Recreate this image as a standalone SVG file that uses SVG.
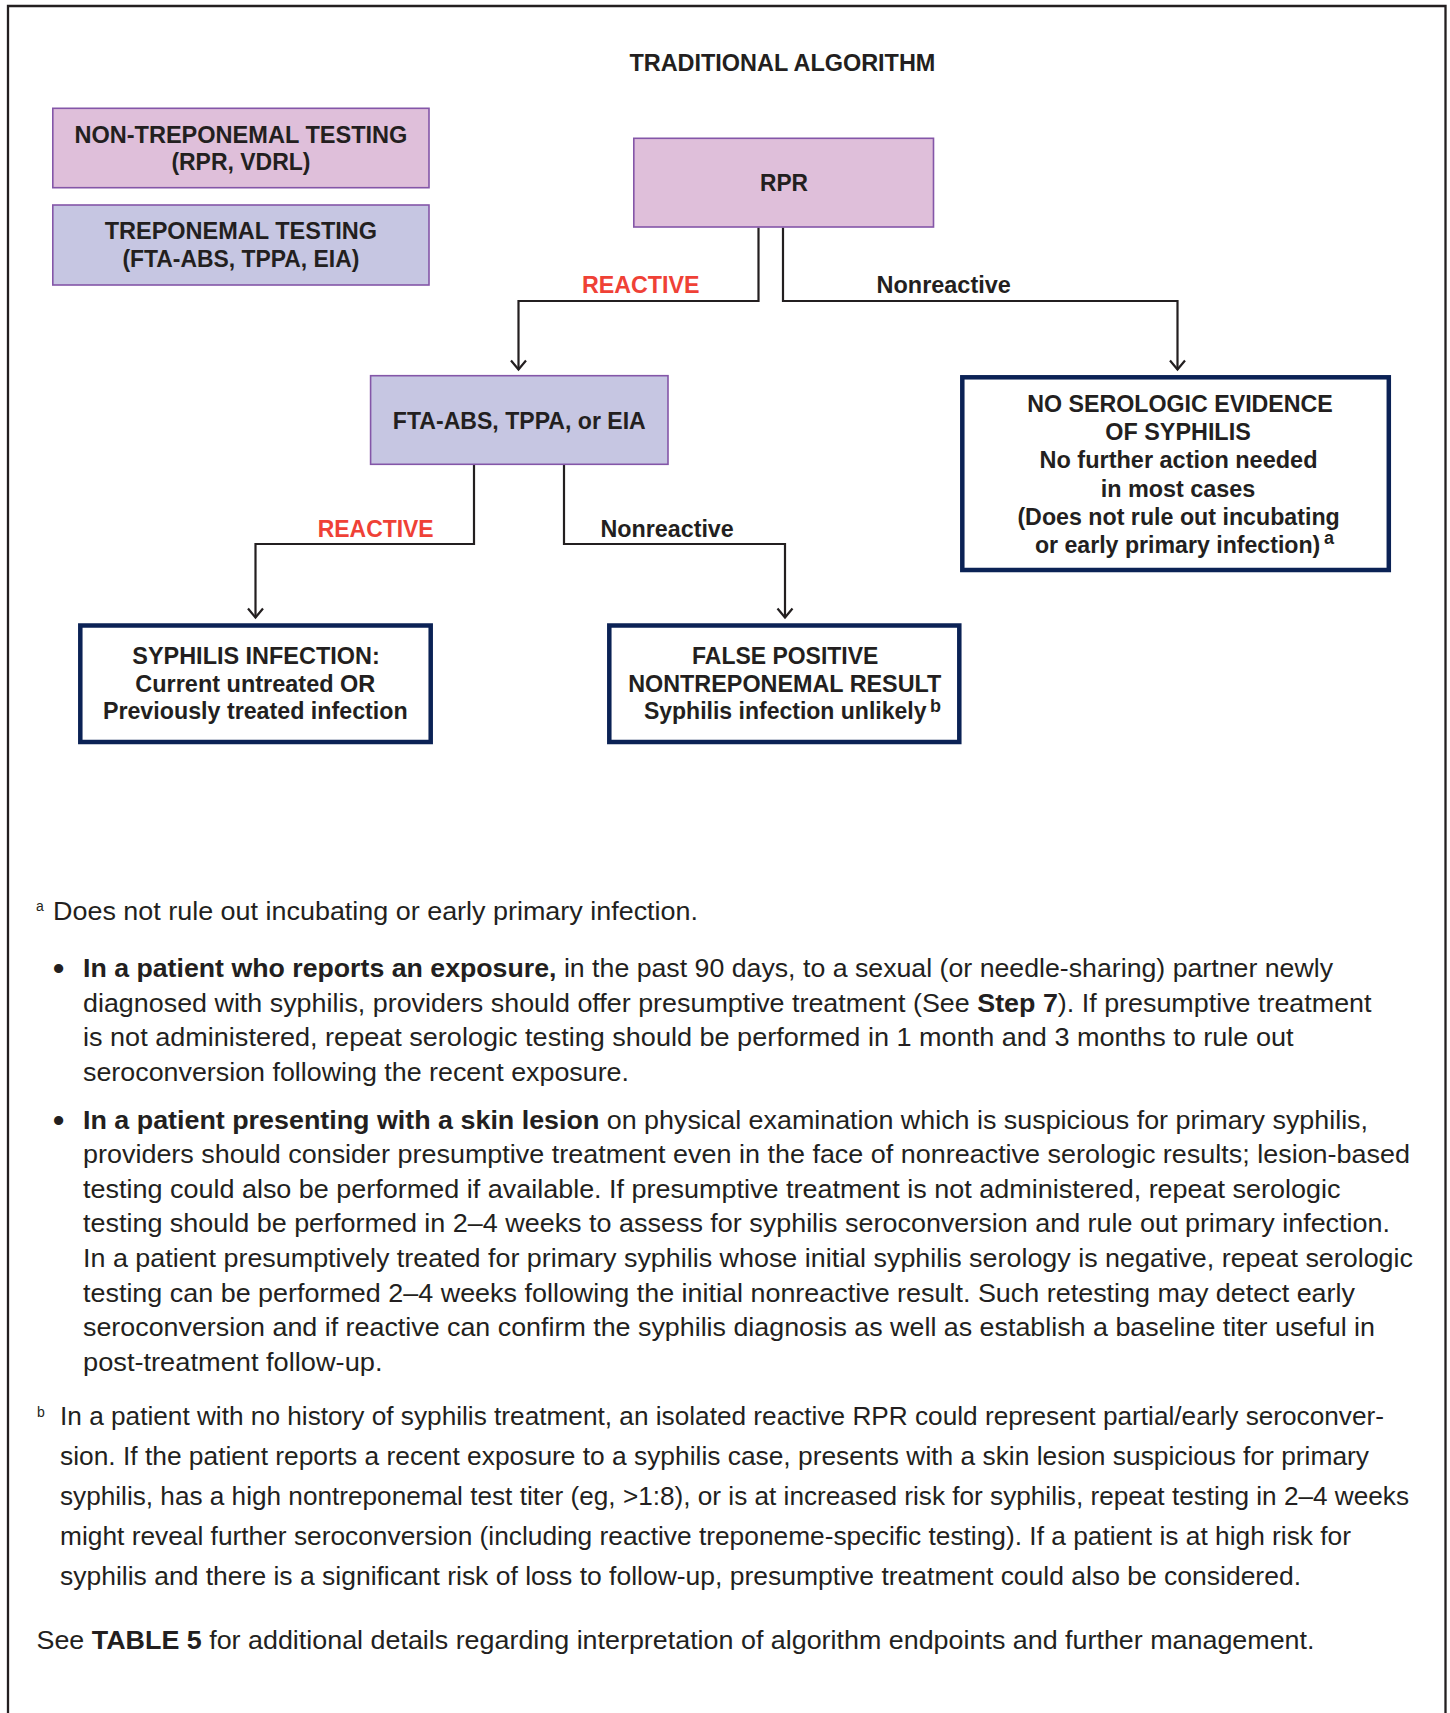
<svg xmlns="http://www.w3.org/2000/svg" width="1450" height="1713" viewBox="0 0 1450 1713">
<style>
  .lbl{font-family:"Liberation Sans",Arial,sans-serif;font-weight:bold;font-size:23px;fill:#231f20;text-anchor:middle}
  .red{fill:#ef4136}
  .sup{font-family:"Liberation Sans",Arial,sans-serif;font-weight:bold;font-size:18px;fill:#231f20}
  .body{font-family:"Liberation Sans",Arial,sans-serif;font-size:26.5px;fill:#231f20}
  .bsup{font-family:"Liberation Sans",Arial,sans-serif;font-size:14px;fill:#231f20}
  .bul{font-family:"Liberation Sans",Arial,sans-serif;font-size:32px;font-weight:bold;fill:#231f20}
  .b{font-weight:bold}
  .pink{fill:#dfbfda;stroke:#8456a8;stroke-width:1.6}
  .lav{fill:#c6c6e2;stroke:#8456a8;stroke-width:1.6}
  .out{fill:#ffffff;stroke:#0b2255;stroke-width:4.5}
  .conn{fill:none;stroke:#231f20;stroke-width:2.2}
</style>
<defs>
  <marker id="arr" markerUnits="userSpaceOnUse" viewBox="-11 -9 13 18" refX="0" refY="0" markerWidth="13" markerHeight="18" orient="auto" overflow="visible">
    <path d="M-9,-7.5 L0,0 L-9,7.5" fill="none" stroke="#231f20" stroke-width="2.2"/>
  </marker>
</defs>
<rect x="0" y="0" width="1450" height="1713" fill="#ffffff"/>
<path d="M8,1713 V6 H1445.5 V1713" fill="none" stroke="#231f20" stroke-width="2.3"/>

<text class="lbl" x="782.4" y="70.7" textLength="306" lengthAdjust="spacingAndGlyphs">TRADITIONAL ALGORITHM</text>

<g id="legend-nontreponemal">
  <rect class="pink" x="52.8" y="108.3" width="376.2" height="79.4"/>
  <text class="lbl" x="240.9" y="142.7" textLength="333" lengthAdjust="spacingAndGlyphs">NON-TREPONEMAL TESTING</text>
  <text class="lbl" x="240.9" y="170" textLength="139" lengthAdjust="spacingAndGlyphs">(RPR, VDRL)</text>
</g>
<g id="legend-treponemal">
  <rect class="lav" x="52.8" y="205" width="376.2" height="80"/>
  <text class="lbl" x="240.9" y="239.3" textLength="272.4" lengthAdjust="spacingAndGlyphs">TREPONEMAL TESTING</text>
  <text class="lbl" x="240.9" y="267" textLength="237" lengthAdjust="spacingAndGlyphs">(FTA-ABS, TPPA, EIA)</text>
</g>

<g id="connectors">
  <path class="conn" d="M758.5,227.5 V301 H518.5 V369.5" marker-end="url(#arr)"/>
  <path class="conn" d="M783,227.5 V301 H1177.5 V369.5" marker-end="url(#arr)"/>
  <path class="conn" d="M474,464.5 V544 H255.5 V617.5" marker-end="url(#arr)"/>
  <path class="conn" d="M564,464.5 V544 H785 V617.5" marker-end="url(#arr)"/>
  <text class="lbl red" x="640.7" y="293.3" textLength="117.6" lengthAdjust="spacingAndGlyphs">REACTIVE</text>
  <text class="lbl" x="943.7" y="293.3" textLength="134.3" lengthAdjust="spacingAndGlyphs">Nonreactive</text>
  <text class="lbl red" x="375.7" y="536.7" textLength="115.8" lengthAdjust="spacingAndGlyphs">REACTIVE</text>
  <text class="lbl" x="667.1" y="536.7" textLength="133.4" lengthAdjust="spacingAndGlyphs">Nonreactive</text>
</g>

<g id="node-rpr">
  <rect class="pink" x="633.8" y="138.3" width="299.7" height="88.7"/>
  <text class="lbl" x="784" y="190.7" textLength="48" lengthAdjust="spacingAndGlyphs">RPR</text>
</g>

<g id="node-fta">
  <rect class="lav" x="370.6" y="375.7" width="297.4" height="88.6"/>
  <text class="lbl" x="519.3" y="429.3" textLength="253" lengthAdjust="spacingAndGlyphs">FTA-ABS, TPPA, or EIA</text>
</g>

<g id="node-no-evidence">
  <rect class="out" x="962.3" y="377.3" width="426.5" height="192.7"/>
  <text class="lbl" x="1180" y="411.5" textLength="305.7" lengthAdjust="spacingAndGlyphs">NO SEROLOGIC EVIDENCE</text>
  <text class="lbl" x="1178" y="440" textLength="145.5" lengthAdjust="spacingAndGlyphs">OF SYPHILIS</text>
  <text class="lbl" x="1178.5" y="468.3" textLength="278" lengthAdjust="spacingAndGlyphs">No further action needed</text>
  <text class="lbl" x="1178" y="496.7" textLength="154.7" lengthAdjust="spacingAndGlyphs">in most cases</text>
  <text class="lbl" x="1178.6" y="525" textLength="322.4" lengthAdjust="spacingAndGlyphs">(Does not rule out incubating</text>
  <text class="lbl" x="1177.6" y="553.3" textLength="285.4" lengthAdjust="spacingAndGlyphs">or early primary infection)</text>
  <text class="sup" x="1324" y="544">a</text>
</g>

<g id="node-syphilis">
  <rect class="out" x="80.3" y="625.5" width="350.4" height="116.5"/>
  <text class="lbl" x="256" y="664" textLength="247.4" lengthAdjust="spacingAndGlyphs">SYPHILIS INFECTION:</text>
  <text class="lbl" x="255.3" y="691.7" textLength="240" lengthAdjust="spacingAndGlyphs">Current untreated OR</text>
  <text class="lbl" x="255.3" y="719.3" textLength="304.8" lengthAdjust="spacingAndGlyphs">Previously treated infection</text>
</g>

<g id="node-false-positive">
  <rect class="out" x="609.3" y="625.5" width="350" height="116.5"/>
  <text class="lbl" x="785.2" y="664" textLength="186.3" lengthAdjust="spacingAndGlyphs">FALSE POSITIVE</text>
  <text class="lbl" x="784.8" y="691.7" textLength="313.2" lengthAdjust="spacingAndGlyphs">NONTREPONEMAL RESULT</text>
  <text class="lbl" x="785.2" y="719.3" textLength="282.6" lengthAdjust="spacingAndGlyphs">Syphilis infection unlikely</text>
  <text class="sup" x="930" y="712">b</text>
</g>

<g id="notes">
  <text class="bsup" x="36" y="911">a</text>
  <text class="body" x="53" y="920" textLength="645" lengthAdjust="spacingAndGlyphs">Does not rule out incubating or early primary infection.</text>

  <text class="bul" x="53" y="979">•</text>
  <text class="body" x="83" y="977" textLength="1250" lengthAdjust="spacingAndGlyphs"><tspan class="b">In a patient who reports an exposure,</tspan> in the past 90 days, to a sexual (or needle-sharing) partner newly</text>
  <text class="body" x="83" y="1011.6" textLength="1288.5" lengthAdjust="spacingAndGlyphs">diagnosed with syphilis, providers should offer presumptive treatment (See <tspan class="b">Step 7</tspan>). If presumptive treatment</text>
  <text class="body" x="83" y="1046.2" textLength="1210.5" lengthAdjust="spacingAndGlyphs">is not administered, repeat serologic testing should be performed in 1 month and 3 months to rule out</text>
  <text class="body" x="83" y="1080.8" textLength="546" lengthAdjust="spacingAndGlyphs">seroconversion following the recent exposure.</text>

  <text class="bul" x="53" y="1130.5">•</text>
  <text class="body" x="83" y="1128.5" textLength="1285" lengthAdjust="spacingAndGlyphs"><tspan class="b">In a patient presenting with a skin lesion</tspan> on physical examination which is suspicious for primary syphilis,</text>
  <text class="body" x="83" y="1163.1" textLength="1327" lengthAdjust="spacingAndGlyphs">providers should consider presumptive treatment even in the face of nonreactive serologic results; lesion-based</text>
  <text class="body" x="83" y="1197.7" textLength="1257.5" lengthAdjust="spacingAndGlyphs">testing could also be performed if available. If presumptive treatment is not administered, repeat serologic</text>
  <text class="body" x="83" y="1232.3" textLength="1307" lengthAdjust="spacingAndGlyphs">testing should be performed in 2–4 weeks to assess for syphilis seroconversion and rule out primary infection.</text>
  <text class="body" x="83" y="1266.9" textLength="1330" lengthAdjust="spacingAndGlyphs">In a patient presumptively treated for primary syphilis whose initial syphilis serology is negative, repeat serologic</text>
  <text class="body" x="83" y="1301.5" textLength="1272" lengthAdjust="spacingAndGlyphs">testing can be performed 2–4 weeks following the initial nonreactive result. Such retesting may detect early</text>
  <text class="body" x="83" y="1336.1" textLength="1292" lengthAdjust="spacingAndGlyphs">seroconversion and if reactive can confirm the syphilis diagnosis as well as establish a baseline titer useful in</text>
  <text class="body" x="83" y="1370.7" textLength="299.5" lengthAdjust="spacingAndGlyphs">post-treatment follow-up.</text>

  <text class="bsup" x="37" y="1416.7">b</text>
  <text class="body" x="60" y="1425" textLength="1324" lengthAdjust="spacingAndGlyphs">In a patient with no history of syphilis treatment, an isolated reactive RPR could represent partial/early seroconver-</text>
  <text class="body" x="60" y="1465" textLength="1309" lengthAdjust="spacingAndGlyphs">sion. If the patient reports a recent exposure to a syphilis case, presents with a skin lesion suspicious for primary</text>
  <text class="body" x="60" y="1505" textLength="1349" lengthAdjust="spacingAndGlyphs">syphilis, has a high nontreponemal test titer (eg, &gt;1:8), or is at increased risk for syphilis, repeat testing in 2–4 weeks</text>
  <text class="body" x="60" y="1545" textLength="1291" lengthAdjust="spacingAndGlyphs">might reveal further seroconversion (including reactive treponeme-specific testing). If a patient is at high risk for</text>
  <text class="body" x="60" y="1585" textLength="1241" lengthAdjust="spacingAndGlyphs">syphilis and there is a significant risk of loss to follow-up, presumptive treatment could also be considered.</text>

  <text class="body" x="36.5" y="1648.5" textLength="1278" lengthAdjust="spacingAndGlyphs">See <tspan class="b">TABLE 5</tspan> for additional details regarding interpretation of algorithm endpoints and further management.</text>
</g>
</svg>
